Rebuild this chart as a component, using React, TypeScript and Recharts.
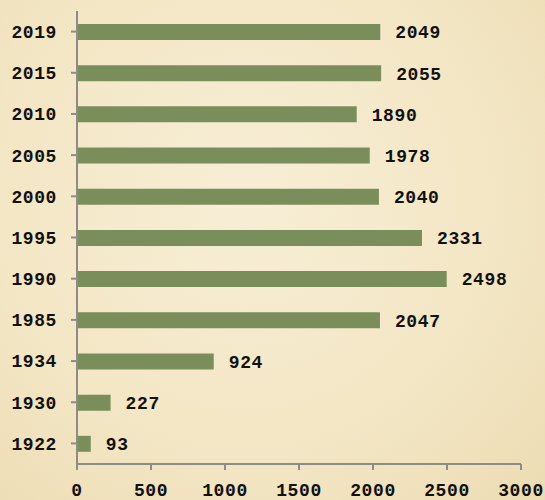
import { BarChart, Bar, XAxis, YAxis, LabelList } from "recharts";

const years = ["2019", "2015", "2010", "2005", "2000", "1995", "1990", "1985", "1934", "1930", "1922"];
const counts = [2049, 2055, 1890, 1978, 2040, 2331, 2498, 2047, 924, 227, 93];
const xTicks = [0, 500, 1000, 1500, 2000, 2500, 3000];

const FONT = "'Liberation Mono', 'DejaVu Sans Mono', monospace";
const AXIS_COLOR = "#8e8c88";
const BAR_COLOR = "#7a8e5b";

const textStyle = {
  fontFamily: FONT,
  fontSize: 18,
  fontWeight: 700,
  fill: "#111",
  letterSpacing: 0.6,
};

const data = years.map((year, i) => ({ year, count: counts[i] }));

export default function App() {
  return (
    <div
      style={{
        position: "absolute",
        top: 0,
        left: 0,
        width: 545,
        height: 500,
        background:
          "radial-gradient(ellipse at 45% 40%, #f7eed6 0%, #f3e6c4 60%, #ecdcb3 100%)",
      }}
    >
      <BarChart
        width={545}
        height={500}
        data={data}
        layout="vertical"
        margin={{ top: 11, right: 24, left: 0, bottom: 0 }}
      >
        <XAxis
          type="number"
          domain={[0, 3000]}
          ticks={xTicks}
          interval={0}
          height={36}
          stroke={AXIS_COLOR}
          strokeWidth={2}
          tickSize={6}
          tickMargin={13}
          tick={textStyle}
        />
        <YAxis
          type="category"
          dataKey="year"
          width={77}
          stroke={AXIS_COLOR}
          strokeWidth={2}
          tickSize={6}
          tickMargin={14}
          tick={textStyle}
        />
        <Bar dataKey="count" fill={BAR_COLOR} barSize={16} isAnimationActive={false}>
          <LabelList dataKey="count" position="right" offset={15} style={textStyle} />
        </Bar>
      </BarChart>
    </div>
  );
}
